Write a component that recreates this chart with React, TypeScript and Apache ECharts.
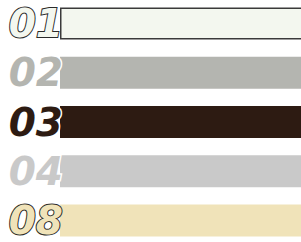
import React, { useEffect, useRef } from "react";
import * as echarts from "echarts";

const categories = ["01", "02", "03", "04", "08"];
const values = [100, 100, 100, 100, 100];
const fillColors = ["#f3f7ef", "#b4b5b0", "#2d1b12", "#c9c9c9", "#f0e3b9"];
const labelStroke = ["#2a2a2a", "#ffffff", "#ffffff", "#ffffff", "#2a2a2a"];
const labelStrokeWidth = [2, 3, 3, 3, 2];
const barBorder = ["#3a3a3a", "transparent", "transparent", "transparent", "transparent"];

export default function App() {
  const ref = useRef<HTMLDivElement>(null);
  useEffect(() => {
    if (!ref.current) return;
    const chart = echarts.init(ref.current, null, { renderer: "svg" });
    const rich: any = {};
    categories.forEach((c, i) => {
      rich["s" + i] = {
        fontFamily: "DejaVu Sans",
        fontWeight: "bold",
        fontStyle: "italic",
        fontSize: 39,
        lineHeight: 32,
        color: fillColors[i],
        textBorderColor: labelStroke[i],
        textBorderWidth: labelStrokeWidth[i],
      };
    });
    chart.setOption({
      animation: false,
      backgroundColor: "#ffffff",
      grid: {
        left: 60,
        right: -8,
        top: -1,
        bottom: -3,
        outerBoundsMode: "none",
        containLabel: false,
      },
      xAxis: {
        type: "value",
        min: 0,
        max: 100,
        show: false,
      },
      yAxis: {
        type: "category",
        inverse: true,
        data: categories,
        z: 10,
        axisLine: { show: false },
        axisTick: { show: false },
        splitLine: { show: false },
        axisLabel: {
          margin: -3,
          formatter: (v: string) => {
            const i = categories.indexOf(v);
            return "{s" + i + "|" + v + "}";
          },
          rich,
        },
      },
      series: [
        {
          type: "bar",
          data: values.map((v, i) => ({
            value: v,
            itemStyle: {
              color: fillColors[i],
              borderColor: barBorder[i],
              borderWidth: i === 0 ? 1.5 : 0,
            },
          })),
          barWidth: 32,
          clip: false,
        },
      ],
    });
    return () => chart.dispose();
  }, []);
  return (
    <div
      ref={ref}
      style={{ position: "absolute", left: 0, top: 0, width: 301, height: 242 }}
    />
  );
}
